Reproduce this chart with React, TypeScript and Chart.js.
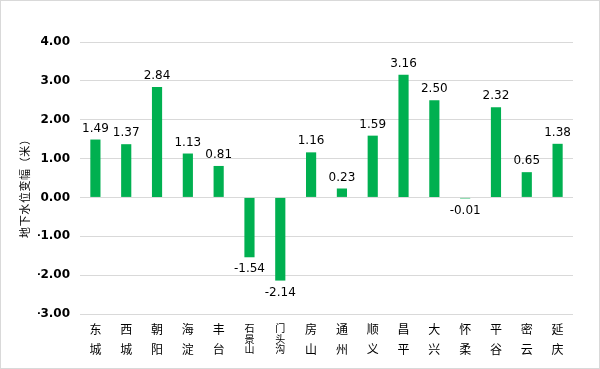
import React, { useEffect, useRef } from "react";
import { Chart, registerables } from "chart.js";

Chart.register(...registerables);

const categories: string[] = [
  "东城", "西城", "朝阳", "海淀", "丰台", "石景山", "门头沟", "房山",
  "通州", "顺义", "昌平", "大兴", "怀柔", "平谷", "密云", "延庆",
];
const values: number[] = [1.49, 1.37, 2.84, 1.13, 0.81, -1.54, -2.14, 1.16, 0.23, 1.59, 3.16, 2.5, -0.01, 2.32, 0.65, 1.38];
const yTitle = "地下水位变幅（米）";

const labelPlugin = {
  id: "barLabels",
  afterDatasetsDraw(chart: any) {
    const ctx = chart.ctx;
    const meta = chart.getDatasetMeta(0);
    ctx.save();
    ctx.font = "12px 'DejaVu Sans'";
    ctx.fillStyle = "#000";
    ctx.textAlign = "center";
    meta.data.forEach((bar: any, i: number) => {
      const v = values[i];
      if (v >= 0) {
        ctx.textBaseline = "bottom";
        ctx.fillText(v.toFixed(2), bar.x, bar.y - 5);
      } else {
        ctx.textBaseline = "top";
        ctx.fillText(v.toFixed(2), bar.x, bar.y + 6);
      }
    });
    ctx.restore();
  },
};

const textPlugin = {
  id: "customText",
  afterDraw(chart: any) {
    const ctx = chart.ctx;
    const xs = chart.scales.x;
    const area = chart.chartArea;
    ctx.save();
    ctx.fillStyle = "#000";
    ctx.textAlign = "center";
    ctx.textBaseline = "middle";
    categories.forEach((c, i) => {
      const x = xs.getPixelForValue(i);
      const chars = Array.from(c);
      if (chars.length <= 2) {
        ctx.font = "12px 'Noto Sans CJK SC'";
        chars.forEach((ch, j) => ctx.fillText(ch, x, area.bottom + 15 + j * 20));
      } else {
        ctx.font = "10px 'Noto Sans CJK SC'";
        chars.forEach((ch, j) => ctx.fillText(ch, x, area.bottom + 14 + j * 10.8));
      }
    });
    // y title
    const tchars = Array.from(yTitle);
    const step = 11.6;
    const cy = (area.top + area.bottom) / 2 + 8;
    ctx.translate(25, cy);
    ctx.rotate(-Math.PI / 2);
    ctx.font = "11px 'Noto Sans CJK SC'";
    const start = -((tchars.length - 1) * step) / 2;
    tchars.forEach((ch, j) => ctx.fillText(ch, start + j * step, 0));
    ctx.restore();
    // outer border
    ctx.save();
    ctx.strokeStyle = "#d9d9d9";
    ctx.lineWidth = 1;
    ctx.strokeRect(0.5, 0.5, chart.width - 1, chart.height - 1);
    ctx.restore();
  },
};

export default function App() {
  const ref = useRef<HTMLCanvasElement | null>(null);
  useEffect(() => {
    document.body.style.margin = "0";
    if (!ref.current) return;
    const chart = new Chart(ref.current, {
      type: "bar",
      data: {
        labels: categories,
        datasets: [
          {
            data: values,
            backgroundColor: "#00B050",
            barPercentage: 0.33,
            categoryPercentage: 1,
            minBarLength: 1,
          },
        ],
      },
      options: {
        animation: false,
        responsive: false,
        devicePixelRatio: 1,
        layout: { padding: { left: 38, right: 27, top: 42, bottom: 4 } },
        plugins: { legend: { display: false }, tooltip: { enabled: false } },
        scales: {
          x: {
            grid: { display: false },
            border: { display: false },
            ticks: { display: false },
            afterFit(scale: any) {
              scale.height = 51;
            },
          },
          y: {
            min: -3,
            max: 4,
            ticks: {
              stepSize: 1,
              color: "#000",
              font: { family: "'DejaVu Sans'", size: 12, weight: "bold" },
              padding: 10,
              callback: (v: any) => Number(v).toFixed(2),
            },
            grid: { color: "#d9d9d9", drawTicks: false },
            border: { display: false },
            afterFit(scale: any) {
              scale.width = 42;
            },
          },
        },
      },
      plugins: [labelPlugin, textPlugin],
    });
    return () => chart.destroy();
  }, []);
  return (
    <div style={{ position: "absolute", left: 0, top: 0, width: 600, height: 369 }}>
      <canvas ref={ref} width={600} height={369} style={{ width: 600, height: 369 }} />
    </div>
  );
}
